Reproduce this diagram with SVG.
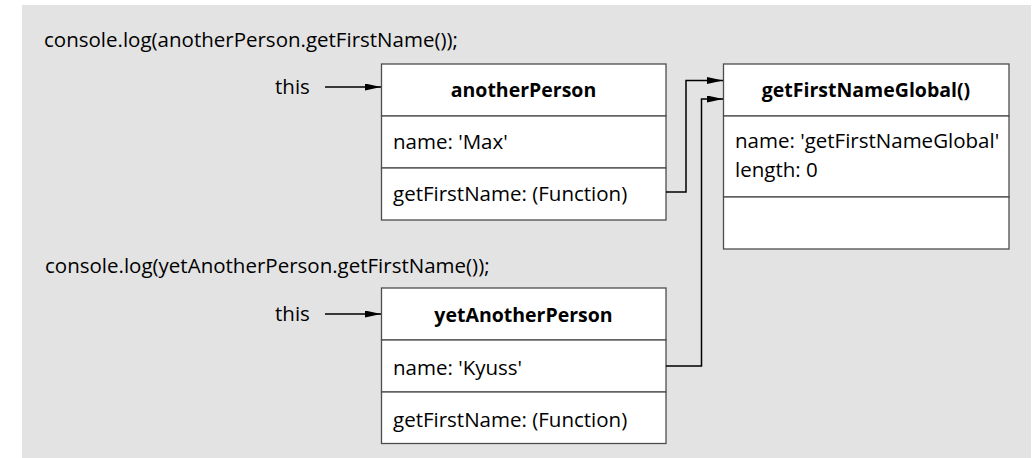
<svg xmlns="http://www.w3.org/2000/svg" width="1035" height="458" viewBox="0 0 1035 458">
<style>
text{font-family:"Open Sans","Noto Sans",sans-serif;font-size:20.5px;fill:#000}
.b{font-weight:bold;font-size:19.5px;text-anchor:middle}
.box{fill:#fff;stroke:#4d4d4d;stroke-width:1.3}
.con{fill:none;stroke:#000;stroke-width:1.5}
</style>
<defs>
<marker id="ah" markerUnits="userSpaceOnUse" viewBox="0 0 16 7" refX="16" refY="3.5" markerWidth="16" markerHeight="7" orient="auto">
<path d="M0,0 L16,3.5 L0,7 z" fill="#000"/>
</marker>
</defs>
<rect x="22" y="5" width="1009" height="453" fill="#e3e3e3"/>
<g id="code1"><text x="44" y="47">console.log(anotherPerson.getFirstName());</text></g>
<g id="code2"><text x="45" y="273">console.log(yetAnotherPerson.getFirstName());</text></g>
<g id="this1"><text x="275" y="94">this</text></g>
<g id="this2"><text x="275" y="321">this</text></g>
<g id="anotherPerson">
<rect class="box" x="381.5" y="64" width="284.5" height="52"/>
<rect class="box" x="381.5" y="116" width="284.5" height="52"/>
<rect class="box" x="381.5" y="168" width="284.5" height="52"/>
<text class="b" x="523.5" y="97">anotherPerson</text>
<text x="393" y="149">name: 'Max'</text>
<text x="393" y="201">getFirstName: (Function)</text>
</g>
<g id="getFirstNameGlobal">
<rect class="box" x="723.5" y="64" width="285.5" height="52"/>
<rect class="box" x="723.5" y="116" width="285.5" height="81"/>
<rect class="box" x="723.5" y="197" width="285.5" height="52"/>
<text class="b" x="866" y="97">getFirstNameGlobal()</text>
<text x="735" y="148">name: 'getFirstNameGlobal'</text>
<text x="735" y="177">length: 0</text>
</g>
<g id="yetAnotherPerson">
<rect class="box" x="381.5" y="288" width="284.5" height="52"/>
<rect class="box" x="381.5" y="340" width="284.5" height="52"/>
<rect class="box" x="381.5" y="392" width="284.5" height="51.5"/>
<text class="b" x="523.5" y="322">yetAnotherPerson</text>
<text x="393" y="375">name: 'Kyuss'</text>
<text x="393" y="427">getFirstName: (Function)</text>
</g>
<g id="connectors">
<path class="con" d="M325,87 H381" marker-end="url(#ah)"/>
<path class="con" d="M325,314 H381" marker-end="url(#ah)"/>
<path class="con" d="M666,192 H686 V80.5 H723" marker-end="url(#ah)"/>
<path class="con" d="M666,366 H701.5 V99 H723" marker-end="url(#ah)"/>
</g>
</svg>
